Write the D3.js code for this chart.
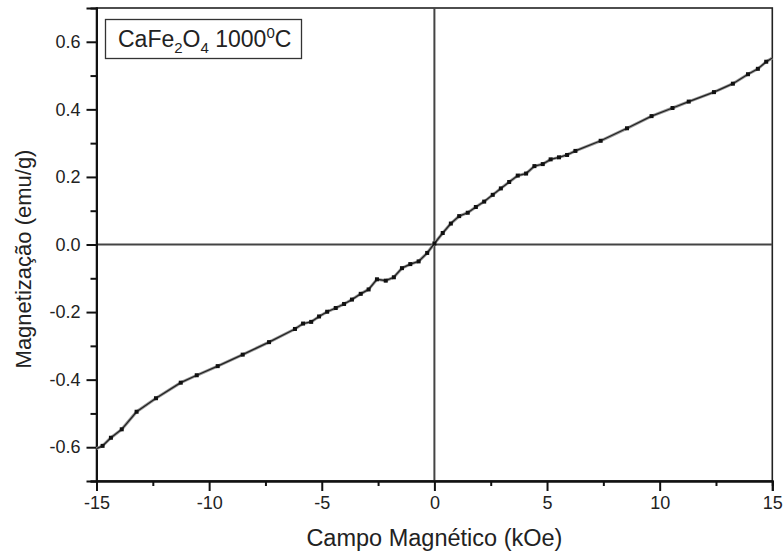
<!DOCTYPE html>
<html>
<head>
<meta charset="utf-8">
<script src="https://cdn.jsdelivr.net/npm/d3@7"></script>
<style>
  body { margin: 0; background: #fff; }
  svg { display: block; font-family: "Liberation Sans", Arial, sans-serif; }
</style>
</head>
<body>
<svg id="chart" width="784" height="556"></svg>
<script>
// campo magnético (kOe) and magnetização (emu/g)
const field = [-15, -14.73, -14.36, -13.88, -13.22, -12.36, -11.26, -10.55, -9.62, -8.51,
    -7.34, -6.19, -5.83, -5.47, -5.12, -4.76, -4.38, -4.01, -3.66, -3.27,
    -2.92, -2.55, -2.16, -1.80, -1.44, -1.07, -0.70, -0.32, 0.0, 0.37,
    0.73, 1.10, 1.48, 1.84, 2.21, 2.59, 2.95, 3.32, 3.70, 4.07,
    4.44, 4.81, 5.16, 5.53, 5.89, 6.26, 7.38, 8.55, 9.64, 10.57,
    11.29, 12.41, 13.25, 13.92, 14.36, 14.73, 15];
const magnetization = [-0.604, -0.596, -0.572, -0.547, -0.495, -0.455, -0.409, -0.387, -0.360, -0.326,
    -0.289, -0.250, -0.234, -0.229, -0.213, -0.199, -0.188, -0.176, -0.163, -0.146,
    -0.133, -0.103, -0.107, -0.097, -0.070, -0.058, -0.050, -0.025, 0.003, 0.034,
    0.062, 0.084, 0.094, 0.111, 0.127, 0.147, 0.166, 0.185, 0.204, 0.210,
    0.232, 0.238, 0.252, 0.258, 0.265, 0.277, 0.307, 0.344, 0.380, 0.404,
    0.423, 0.451, 0.476, 0.504, 0.520, 0.541, 0.552];

const xTicks = [-15, -10, -5, 0, 5, 10, 15];
const yTicks = [-0.6, -0.4, -0.2, 0.0, 0.2, 0.4, 0.6];
const xMinor = [-12.5, -7.5, -2.5, 2.5, 7.5, 12.5];
const yMinor = [-0.7, -0.5, -0.3, -0.1, 0.1, 0.3, 0.5];

const points = field.map((f, i) => ({ x: f, y: magnetization[i] }));

const svg = d3.select('#chart');
const plot = { left: 96.5, right: 772.3, top: 8, bottom: 481 };

const x = d3.scaleLinear().domain([-15, 15]).range([plot.left, plot.right]);
const y = d3.scaleLinear().domain([-0.7, 0.7]).range([plot.bottom, plot.top]);

// plain hyphen for negatives, like the original
const hyphen = fmt => d => d3.format(fmt)(d).replace('\u2212', '-');

// frame (top and right)
svg.append('rect')
    .attr('x', plot.left).attr('y', plot.top)
    .attr('width', plot.right - plot.left).attr('height', plot.bottom - plot.top)
    .attr('fill', 'none').attr('stroke', '#222').attr('stroke-width', 1.6);

// zero lines
svg.append('line')
    .attr('x1', x(0)).attr('x2', x(0)).attr('y1', plot.top).attr('y2', plot.bottom)
    .attr('stroke', '#444').attr('stroke-width', 2);
svg.append('line')
    .attr('x1', plot.left).attr('x2', plot.right).attr('y1', y(0)).attr('y2', y(0))
    .attr('stroke', '#444').attr('stroke-width', 2);

// axes
const xAxis = svg.append('g')
    .attr('transform', `translate(0,${plot.bottom})`)
    .call(d3.axisBottom(x).tickValues(xTicks).tickSize(10).tickPadding(5).tickFormat(hyphen('d')));
const xAxisMinor = svg.append('g')
    .attr('transform', `translate(0,${plot.bottom})`)
    .call(d3.axisBottom(x).tickValues(xMinor).tickSize(5).tickFormat(''));
const yAxis = svg.append('g')
    .attr('transform', `translate(${plot.left},0)`)
    .call(d3.axisLeft(y).tickValues(yTicks).tickSize(10).tickPadding(6).tickFormat(hyphen('.1f')));
const yAxisMinor = svg.append('g')
    .attr('transform', `translate(${plot.left},0)`)
    .call(d3.axisLeft(y).tickValues(yMinor).tickSize(6).tickFormat(''));

[xAxis, xAxisMinor, yAxis, yAxisMinor].forEach(g => {
    g.select('.domain').attr('stroke', '#111').attr('stroke-width', 2);
    g.selectAll('.tick line').attr('stroke', '#111').attr('stroke-width', 2);
    g.selectAll('.tick text')
        .attr('font-family', '"Liberation Sans", Arial, sans-serif')
        .attr('font-size', 18).attr('fill', '#222');
});

// curve
const line = d3.line().x(d => x(d.x)).y(d => y(d.y));
svg.append('path')
    .datum(points)
    .attr('d', line)
    .attr('fill', 'none')
    .attr('stroke', '#999')
    .attr('stroke-width', 3);
svg.append('path')
    .datum(points)
    .attr('d', line)
    .attr('fill', 'none')
    .attr('stroke', '#222')
    .attr('stroke-width', 1.3);

svg.append('g').selectAll('rect')
    .data(points.slice(1, -1))
    .join('rect')
    .attr('x', d => x(d.x) - 2)
    .attr('y', d => y(d.y) - 2)
    .attr('width', 4).attr('height', 4)
    .attr('fill', '#111');

// legend box
const legend = svg.append('g');
legend.append('rect')
    .attr('x', 105.5).attr('y', 19.5).attr('width', 196).attr('height', 39)
    .attr('fill', '#fff').attr('stroke', '#333').attr('stroke-width', 1.3);
const legendText = legend.append('text')
    .attr('x', 118).attr('y', 46.5)
    .attr('font-size', 23).attr('fill', '#222');
legendText.append('tspan').text('CaFe');
legendText.append('tspan').attr('font-size', 15).attr('dy', 6).text('2');
legendText.append('tspan').attr('dy', -6).text('O');
legendText.append('tspan').attr('font-size', 15).attr('dy', 6).text('4');
legendText.append('tspan').attr('dy', -6).text(' 1000');
legendText.append('tspan').attr('font-size', 15).attr('dy', -9).text('0');
legendText.append('tspan').attr('dy', 9).text('C');

// axis titles
svg.append('text')
    .attr('x', x(0)).attr('y', 546)
    .attr('text-anchor', 'middle')
    .attr('font-size', 23.5).attr('fill', '#222')
    .text('Campo Magnético (kOe)');
svg.append('text')
    .attr('transform', `translate(31,${259}) rotate(-90)`)
    .attr('text-anchor', 'middle')
    .attr('font-size', 22).attr('fill', '#222')
    .text('Magnetização (emu/g)');
</script>
</body>
</html>
